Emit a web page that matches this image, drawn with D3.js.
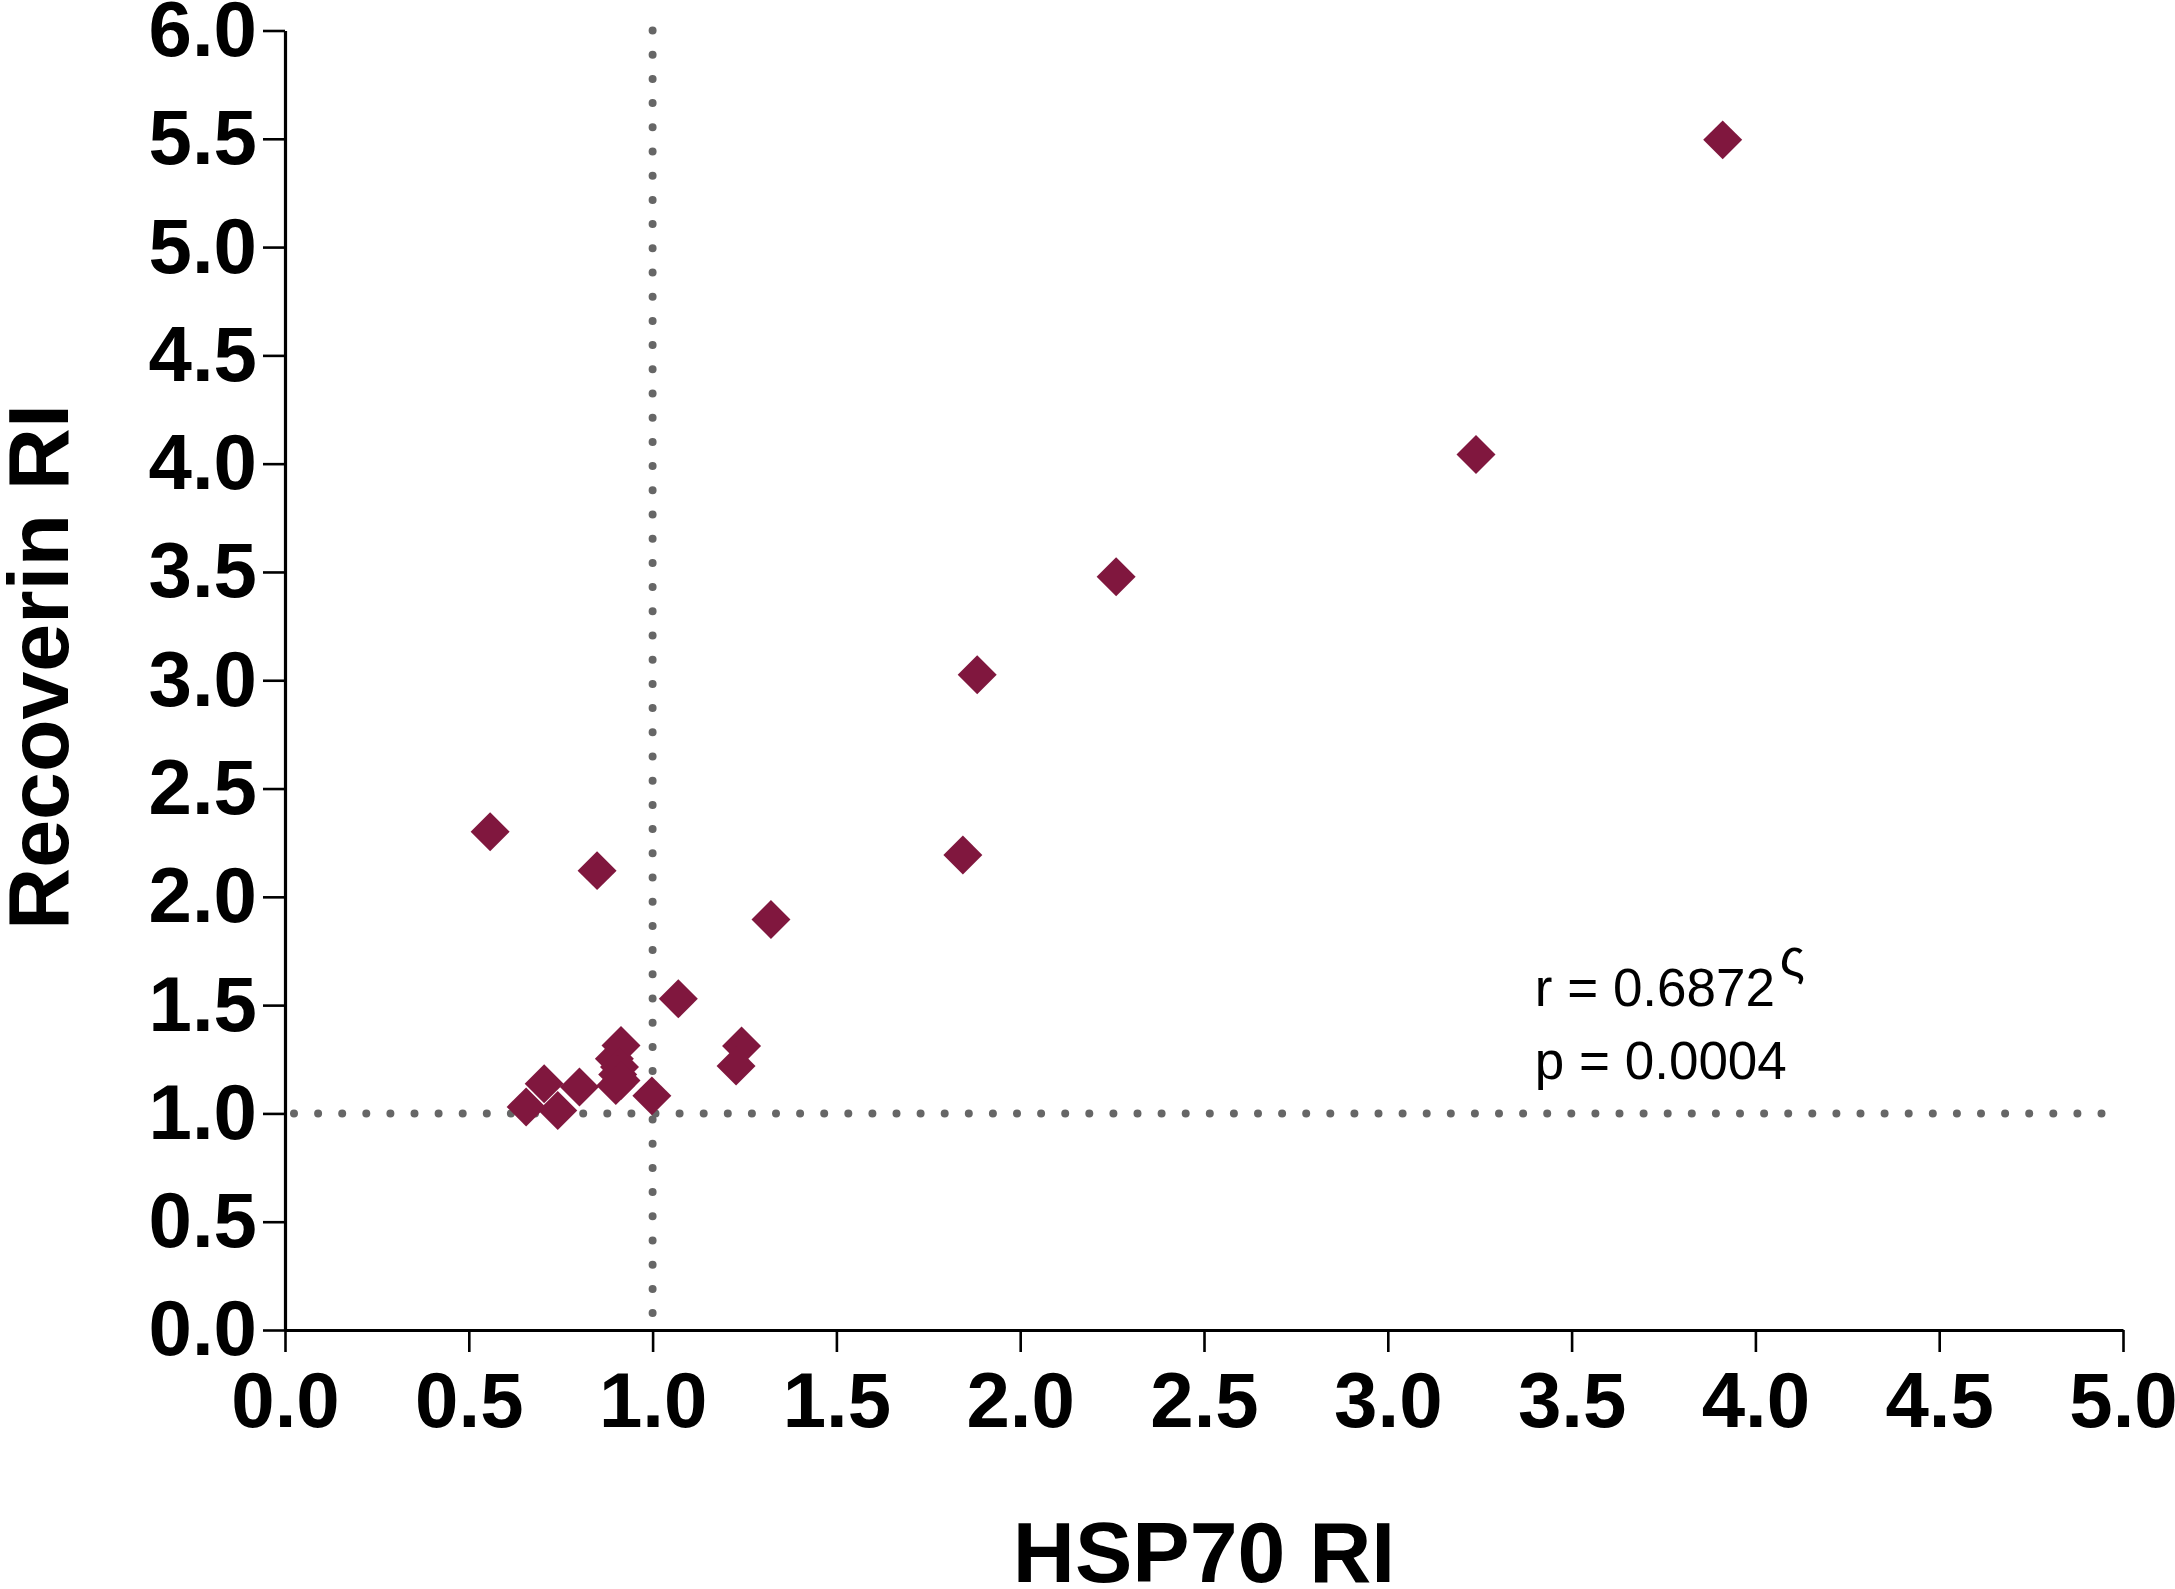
<!DOCTYPE html>
<meta charset="utf-8">
<style>
	body { margin: 0; background: #fff; }
	svg { display: block; font-family: "Liberation Sans", Arial, sans-serif; }
</style>
<body>
<script src="https://cdn.jsdelivr.net/npm/d3@7"></script>
<script>
	// HSP70 RI (x) vs Recoverin RI (y)
	var hsp70 = [3.911, 3.240, 2.261, 1.883, 1.844, 0.558, 0.849, 1.322, 1.070, 1.242, 1.227,
		0.998, 0.914, 0.896, 0.910, 0.905, 0.914, 0.900, 0.801, 0.705, 0.656, 0.742];
	var recoverin = [5.495, 4.042, 3.478, 3.025, 2.193, 2.301, 2.121, 1.895, 1.529, 1.311, 1.219,
		1.081, 1.314, 1.252, 1.214, 1.180, 1.152, 1.129, 1.122, 1.137, 1.030, 1.014];

	var xTicks = [0, 0.5, 1, 1.5, 2, 2.5, 3, 3.5, 4, 4.5, 5];
	var yTicks = [0, 0.5, 1, 1.5, 2, 2.5, 3, 3.5, 4, 4.5, 5, 5.5, 6];
	var refX = 1.0, refY = 1.0;
	var statLines = ["r = 0.6872", "p = 0.0004"];
	var statMark = "\u03C2";

	var W = 2175, H = 1589;
	var margin = {top: 30.5, right: 52, bottom: 259, left: 285};
	var width = W - margin.left - margin.right;
	var height = H - margin.top - margin.bottom;

	var pointColor = "#80173e";
	var dotColor = "#666666";
	var tickFont = 78;
	var titleFont = 86;

	var svg = d3.select("body").append("svg")
		.attr("width", W)
		.attr("height", H);

	var g = svg.append("g")
		.attr("transform", "translate(" + margin.left + "," + margin.top + ")");

	var x = d3.scaleLinear().domain([0, 5]).range([0, width]);
	var y = d3.scaleLinear().domain([0, 6]).range([height, 0]);

	// reference lines (dotted)
	g.append("line")
		.attr("x1", x(refX)).attr("x2", x(refX))
		.attr("y1", y(6)).attr("y2", y(0))
		.attr("stroke", dotColor)
		.attr("stroke-width", 8)
		.attr("stroke-linecap", "round")
		.attr("stroke-dasharray", "0 24.2");
	g.append("line")
		.attr("x1", x(0) + 9).attr("x2", x(5))
		.attr("y1", y(refY)).attr("y2", y(refY))
		.attr("stroke", dotColor)
		.attr("stroke-width", 8)
		.attr("stroke-linecap", "round")
		.attr("stroke-dasharray", "0 24.1");

	// axes
	var xAxis = d3.axisBottom(x)
		.tickValues(xTicks)
		.tickFormat(d3.format(".1f"))
		.tickSizeInner(22).tickSizeOuter(0).tickPadding(20);
	var yAxis = d3.axisLeft(y)
		.tickValues(yTicks)
		.tickFormat(d3.format(".1f"))
		.tickSizeInner(22).tickSizeOuter(0).tickPadding(6);

	var gx = g.append("g")
		.attr("transform", "translate(0," + height + ")")
		.call(xAxis);
	var gy = g.append("g").call(yAxis);

	[gx, gy].forEach(function(a) {
		a.select(".domain").attr("stroke", "#000").attr("stroke-width", 3.2);
		a.selectAll(".tick line").attr("stroke", "#000").attr("stroke-width", 2.6);
		a.selectAll(".tick text")
			.attr("fill", "#000")
			.attr("font-size", tickFont + "px")
			.attr("font-weight", "bold")
			.attr("font-family", "Liberation Sans, Arial, sans-serif");
	});

	// points
	var diamond = d3.symbol().type(d3.symbolSquare).size(760);
	g.selectAll("path.pt")
		.data(hsp70.map(function(v, i) { return [v, recoverin[i]]; }))
		.enter()
		.append("path")
		.attr("class", "pt")
		.attr("d", diamond)
		.attr("transform", function(d) { return "translate(" + x(d[0]) + "," + y(d[1]) + ") rotate(45)"; })
		.attr("fill", pointColor);

	// stats annotation
	g.selectAll("text.stat")
		.data(statLines)
		.enter()
		.append("text")
		.attr("class", "stat")
		.attr("x", x(3.4))
		.attr("y", function(d, i) { return y(i == 0 ? 1.497 : 1.16); })
		.attr("font-size", "53px")
		.attr("fill", "#000")
		.text(function(d) { return d; });
	g.append("text")
		.attr("x", x(3.4) + 245)
		.attr("y", y(1.497) - 31)
		.attr("font-size", "52px")
		.attr("fill", "#000")
		.text(statMark);

	// axis titles
	svg.append("text")
		.attr("x", margin.left + x(2.5))
		.attr("y", 1582)
		.attr("text-anchor", "middle")
		.attr("font-size", titleFont + "px")
		.attr("font-weight", "bold")
		.text("HSP70 RI");
	svg.append("text")
		.attr("transform", "translate(68," + 667 + ") rotate(-90)")
		.attr("text-anchor", "middle")
		.attr("font-size", titleFont + "px")
		.attr("font-weight", "bold")
		.text("Recoverin RI");
</script>
</body>
